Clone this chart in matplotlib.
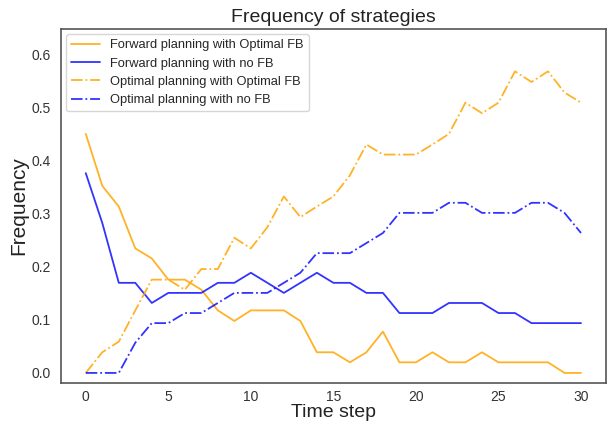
import matplotlib

matplotlib.use("Agg")
import matplotlib.pyplot as plt
import seaborn as sns
import numpy as np

# 每个时间步各策略的出现频率
time_steps = np.arange(31)
fwd_optimal_fb = [0.451, 0.353, 0.314, 0.235, 0.216, 0.176, 0.176, 0.157, 0.118, 0.098,
                  0.118, 0.118, 0.118, 0.098, 0.039, 0.039, 0.020, 0.039, 0.078, 0.020,
                  0.020, 0.039, 0.020, 0.020, 0.039, 0.020, 0.020, 0.020, 0.020, 0.0, 0.0]
fwd_no_fb = [0.377, 0.283, 0.170, 0.170, 0.132, 0.151, 0.151, 0.151, 0.170, 0.170,
             0.189, 0.170, 0.151, 0.170, 0.189, 0.170, 0.170, 0.151, 0.151, 0.113,
             0.113, 0.113, 0.132, 0.132, 0.132, 0.113, 0.113, 0.094, 0.094, 0.094, 0.094]
opt_optimal_fb = [0.0, 0.039, 0.059, 0.118, 0.176, 0.176, 0.157, 0.196, 0.196, 0.255,
                  0.235, 0.275, 0.333, 0.294, 0.314, 0.333, 0.373, 0.431, 0.412, 0.412,
                  0.412, 0.431, 0.451, 0.510, 0.490, 0.510, 0.569, 0.549, 0.569, 0.529, 0.510]
opt_no_fb = [0.0, 0.0, 0.0, 0.057, 0.094, 0.094, 0.113, 0.113, 0.132, 0.151,
             0.151, 0.151, 0.170, 0.189, 0.226, 0.226, 0.226, 0.245, 0.264, 0.302,
             0.302, 0.302, 0.321, 0.321, 0.302, 0.302, 0.302, 0.321, 0.321, 0.302, 0.264]

sns.set_style("white")
plt.rcParams["font.family"] = ["Liberation Sans", "DejaVu Sans"]

fig = plt.figure(figsize=(6.07, 4.24), dpi=100)
ax = fig.add_axes([0.1005, 0.0967, 0.8975, 0.835])

ax.plot(time_steps, fwd_optimal_fb, color="orange", alpha=0.85, lw=1.3,
        label="Forward planning with Optimal FB")
ax.plot(time_steps, fwd_no_fb, color="blue", alpha=0.8, lw=1.3,
        label="Forward planning with no FB")
ax.plot(time_steps, opt_optimal_fb, color="orange", alpha=0.85, lw=1.3, ls="-.",
        label="Optimal planning with Optimal FB")
ax.plot(time_steps, opt_no_fb, color="blue", alpha=0.8, lw=1.3, ls="-.",
        label="Optimal planning with no FB")

ax.set_ylim(-0.019, 0.649)
ax.set_xticks([0, 5, 10, 15, 20, 25, 30])
ax.set_yticks([0.0, 0.1, 0.2, 0.3, 0.4, 0.5, 0.6])
ax.tick_params(axis="y", labelsize=10, colors="#333333", pad=4)
ax.tick_params(axis="x", labelsize=10, colors="#333333", pad=1.5)
for spine in ax.spines.values():
    spine.set_color("#555555")
    spine.set_linewidth(1.2)

ax.set_title("Frequency of strategies", fontsize=14, color="#222222", pad=5)
ax.set_xlabel("Time step", fontsize=14, color="#222222", labelpad=0)
ax.set_ylabel("Frequency", fontsize=15, color="#222222", labelpad=2)
ax.legend(loc="upper left", fontsize=9.3, frameon=True, labelspacing=0.48,
          borderaxespad=0.4, handlelength=2.2)

fig.savefig("out.png", dpi=100)
